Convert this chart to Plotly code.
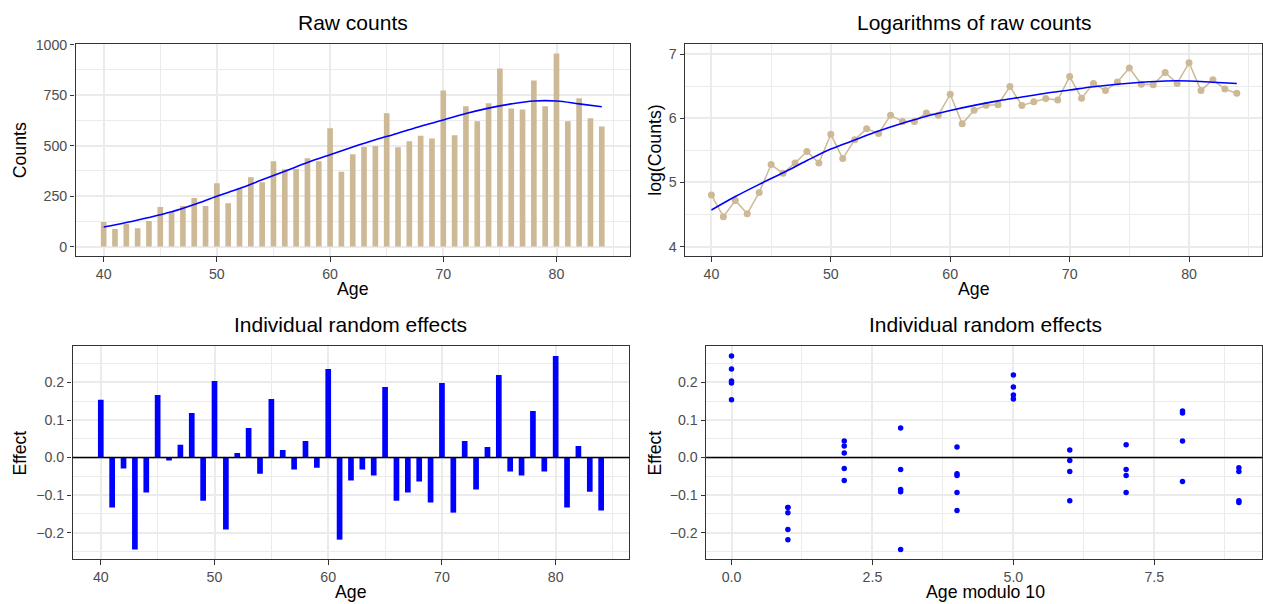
import numpy as np
import plotly.graph_objects as go

# ---------------- data ----------------
ages = list(range(40, 85))
counts = [122, 87, 112, 91, 127, 196, 171, 201, 240, 201,
          314, 215, 289, 343, 318, 423, 383, 384, 437, 423,
          586, 370, 457, 493, 498, 660, 492, 521, 549, 535,
          772, 551, 694, 620, 709, 882, 684, 679, 822, 694,
          956, 620, 734, 635, 595]
fit_ages = [40, 42, 44, 46, 48, 50, 52, 54, 56, 58, 60, 62, 64, 66, 68,
            70, 72, 74, 76, 78, 80, 82, 84]
fit_log = [4.57, 4.78, 4.97, 5.15, 5.34, 5.52, 5.66, 5.80, 5.92, 6.03, 6.12,
           6.20, 6.27, 6.33, 6.39, 6.44, 6.49, 6.53, 6.56, 6.58, 6.58, 6.56, 6.54]
effects = [0.154, -0.133, -0.029, -0.245, -0.093, 0.167, -0.008, 0.034, 0.119, -0.115,
           0.204, -0.192, 0.012, 0.079, -0.043, 0.156, 0.020, -0.032, 0.044, -0.027,
           0.236, -0.219, -0.061, -0.032, -0.048, 0.188, -0.115, -0.093, -0.064, -0.120,
           0.199, -0.147, 0.044, -0.085, 0.028, 0.220, -0.037, -0.048, 0.124, -0.037,
           0.271, -0.133, 0.031, -0.091, -0.141]

titles = ["Raw counts", "Logarithms of raw counts",
          "Individual random effects", "Individual random effects"]

log_counts = np.log(counts)
fit_counts = np.exp(fit_log)
age_mod = [a % 10 for a in ages]

TAN = "#CDB995"
BLUE = "#0000FF"
W, H = 1263, 604
# the page photo maps figure pixel y to about 6.6 + 0.989*y; compensate
Y_OFF, Y_SCALE = 6.6, 0.989

def px_x(p):
    return p / W

def px_y(p):
    return 1 - ((p - Y_OFF) / Y_SCALE) / H

fig = go.Figure()

# top-left
fig.add_trace(go.Bar(x=ages, y=counts, width=0.5, marker=dict(color=TAN, line=dict(width=0)),
                     xaxis="x", yaxis="y", showlegend=False))
fig.add_trace(go.Scatter(x=fit_ages, y=fit_counts, mode="lines", line=dict(color=BLUE, width=1.6, shape="spline"),
                         xaxis="x", yaxis="y", showlegend=False))
# top-right
fig.add_trace(go.Scatter(x=ages, y=log_counts, mode="lines+markers",
                         line=dict(color=TAN, width=1.5), marker=dict(color=TAN, size=7),
                         xaxis="x2", yaxis="y2", showlegend=False))
fig.add_trace(go.Scatter(x=fit_ages, y=fit_log, mode="lines", line=dict(color=BLUE, width=1.6, shape="spline"),
                         xaxis="x2", yaxis="y2", showlegend=False))
# bottom-left
fig.add_trace(go.Bar(x=ages, y=effects, width=0.5, marker=dict(color=BLUE, line=dict(width=0)),
                     xaxis="x3", yaxis="y3", showlegend=False))
# bottom-right
fig.add_trace(go.Scatter(x=age_mod, y=effects, mode="markers", marker=dict(color=BLUE, size=5.5),
                         xaxis="x4", yaxis="y4", showlegend=False))

TICKFONT = dict(family="Liberation Sans, Arial, sans-serif", size=14.2, color="#4D4D4D")
GRID = "#EBEBEB"

def axis_style(**kw):
    d = dict(showline=True, mirror=True, linecolor="#333333", linewidth=1.4,
             ticks="outside", ticklen=4.4, tickwidth=1.4, tickcolor="#333333",
             tickfont=TICKFONT, showgrid=True, gridcolor=GRID, gridwidth=1.8,
             zeroline=False, fixedrange=True)
    d.update(kw)
    return d

MINOR_AGE = dict(tickvals=[45, 55, 65, 75, 85], showgrid=True, gridcolor=GRID, gridwidth=0.9)
MINOR_EFF = dict(tickvals=[-0.25, -0.15, -0.05, 0.05, 0.15, 0.25], showgrid=True, gridcolor=GRID, gridwidth=0.9)

fig.update_layout(
    width=W, height=H, margin=dict(l=0, r=0, t=0, b=0),
    paper_bgcolor="white", plot_bgcolor="white",
    font=dict(family="Liberation Sans, Arial, sans-serif", color="black"),
    xaxis=axis_style(domain=[px_x(75.7), px_x(630.3)], range=[37.525, 86.475],
                     tickvals=[40, 50, 60, 70, 80], minor=MINOR_AGE, anchor="y"),
    yaxis=axis_style(domain=[px_y(256), px_y(43.4)], range=[-47.8, 1003.8],
                     tickvals=[0, 250, 500, 750, 1000],
                     minor=dict(tickvals=[125, 375, 625, 875], showgrid=True, gridcolor=GRID, gridwidth=0.9),
                     anchor="x"),
    xaxis2=axis_style(domain=[px_x(685.7), 1.0], range=[37.8, 86.11],
                      tickvals=[40, 50, 60, 70, 80], minor=MINOR_AGE, anchor="y2"),
    yaxis2=axis_style(domain=[px_y(256), px_y(44)], range=[3.85, 7.15],
                      tickvals=[4, 5, 6, 7],
                      minor=dict(tickvals=[4.5, 5.5, 6.5], showgrid=True, gridcolor=GRID, gridwidth=0.9),
                      anchor="x2"),
    xaxis3=axis_style(domain=[px_x(72.7), px_x(629.8)], range=[37.525, 86.475],
                      tickvals=[40, 50, 60, 70, 80], minor=MINOR_AGE, anchor="y3"),
    yaxis3=axis_style(domain=[px_y(559), px_y(346)], range=[-0.2708, 0.2968],
                      tickvals=[-0.2, -0.1, 0.0, 0.1, 0.2], tickformat=".1f",
                      minor=MINOR_EFF, anchor="x3"),
    xaxis4=axis_style(domain=[px_x(706.7), 1.0], range=[-0.45, 9.41],
                      tickvals=[0, 2.5, 5, 7.5], tickformat=".1f",
                      minor=dict(tickvals=[1.25, 3.75, 6.25, 8.75], showgrid=True, gridcolor=GRID, gridwidth=0.9),
                      anchor="y4"),
    yaxis4=axis_style(domain=[px_y(559), px_y(346)], range=[-0.2708, 0.2968],
                      tickvals=[-0.2, -0.1, 0.0, 0.1, 0.2], tickformat=".1f",
                      minor=MINOR_EFF, anchor="x4"),
)

# horizontal reference lines at zero
for xr, yr in [("x3", "y3"), ("x4", "y4")]:
    fig.add_shape(type="line", xref=f"{xr} domain", yref=yr, x0=0, x1=1, y0=0, y1=0,
                  line=dict(color="black", width=1.6), layer="above")

TITLE_SIZE = 21
LAB_SIZE = 17.7

def ann(text, xp, yp, size, angle=0):
    fig.add_annotation(text=text, x=px_x(xp), y=px_y(yp), xref="paper", yref="paper",
                       xanchor="center", yanchor="middle", showarrow=False, textangle=angle,
                       font=dict(size=size, color="black", family="Liberation Sans, Arial, sans-serif"))

# panel titles
ann(titles[0], 353, 22.5, TITLE_SIZE)
ann(titles[1], 975, 22.5, TITLE_SIZE)
ann(titles[2], 351, 324, TITLE_SIZE)
ann(titles[3], 986, 324, TITLE_SIZE)
# x labels
ann("Age", 353, 289, LAB_SIZE)
ann("Age", 975, 289, LAB_SIZE)
ann("Age", 351, 591.5, LAB_SIZE)
ann("Age modulo 10", 986, 591.5, LAB_SIZE)
# y labels
ann("Counts", 20, 150, LAB_SIZE, -90)
ann("log(Counts)", 656, 150, LAB_SIZE, -90)
ann("Effect", 20, 452.5, LAB_SIZE, -90)
ann("Effect", 655.5, 452.5, LAB_SIZE, -90)

fig.write_html("out.html", config={"displayModeBar": False},
               post_script="document.body.style.margin='0';document.body.style.overflow='hidden';"
                           "document.documentElement.style.overflow='hidden';")
